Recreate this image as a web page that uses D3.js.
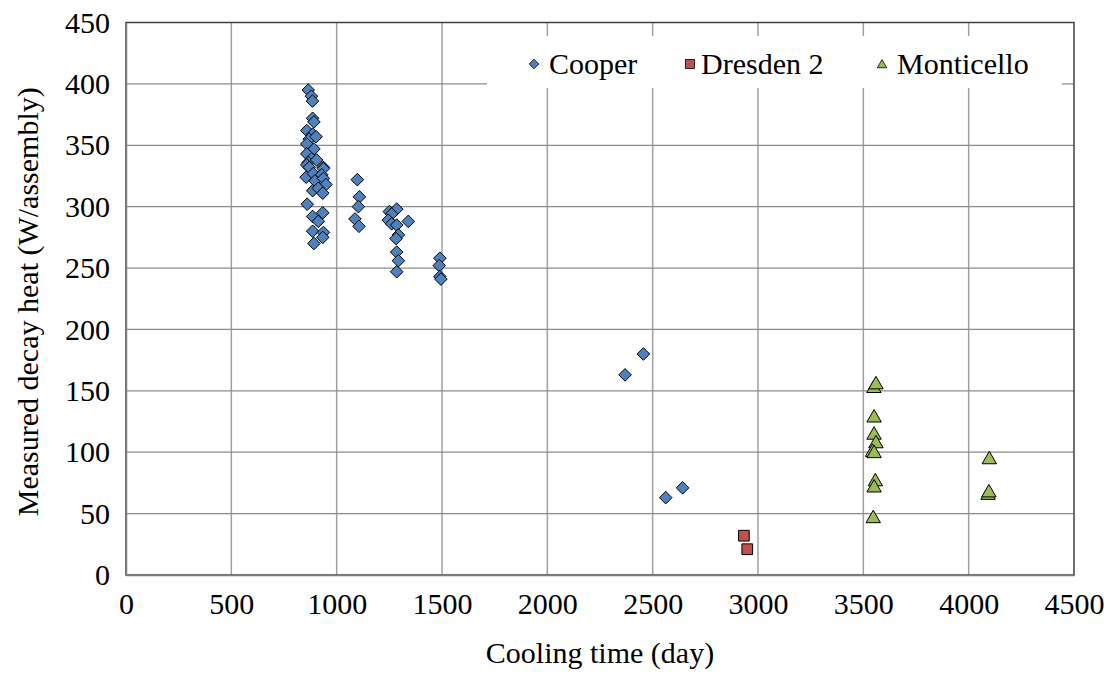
<!DOCTYPE html>
<html><head><meta charset="utf-8">
<script src="https://cdn.jsdelivr.net/npm/d3@7"></script>
<style>body{margin:0;background:#fff;}</style>
</head><body><svg id="c" width="1115" height="675"></svg>
<script>
// Data
const cooperDay = [865,880,885,886,892,858,886,870,902,858,892,858,881,865,905,937,858,
  870,937,855,889,929,897,937,949,886,913,934,860,934,886,913,886,937,934,892,
  1098,1108,1103,1087,1106,1250,1285,1261,1245,1261,1340,1285,1293,1282,1285,1293,1285,
  1490,1487,1490,1495,2369,2456,2562,2642];
const cooperHeat = [395,390,386,372,369,362,359,355,357,351,347,343,339,336,338,332,334,
  332,331,324,327,326,321,323,318,313,315,311,302,295,292,288,280,279,275,270,
  322,308,300,290,284,296,298,294,289,286,288,285,277,274,263,256,247,
  258,252,243,241,163,180,63,71];
const dresdenDay = [2933,2949];
const dresdenHeat = [32,21];
const montiDay = [3550,3560,3551,3551,3560,3544,3551,3557,3551,3547,4098,4092,4096];
const montiHeat = [152,155,128,114,107,100,99,76,71,46,94,65,67];
const xTicks = [0,500,1000,1500,2000,2500,3000,3500,4000,4500];
const yTicks = [0,50,100,150,200,250,300,350,400,450];
const seriesNames = ["Cooper","Dresden 2","Monticello"];

const FF = '"Liberation Serif"';
const svg = d3.select("#c");
const L=126, R=1074, T=22.5, B=575;
const x = d3.scaleLinear().domain([0,4500]).range([L,R]);
const y = d3.scaleLinear().domain([0,450]).range([B,T]);
const FONT = 30;

// gridlines
svg.append("g").selectAll("line").data(xTicks.slice(1,-1)).join("line")
  .attr("x1",d=>x(d)).attr("x2",d=>x(d)).attr("y1",T).attr("y2",B)
  .attr("stroke","#a0a0a0").attr("stroke-width",1.5);
svg.append("g").selectAll("line").data(yTicks.slice(1,-1)).join("line")
  .attr("y1",d=>y(d)).attr("y2",d=>y(d)).attr("x1",L).attr("x2",R)
  .attr("stroke","#8c8c8c").attr("stroke-width",1.3);
// frame
svg.append("rect").attr("x",L).attr("y",T).attr("width",R-L).attr("height",B-T)
  .attr("fill","none").attr("stroke","#404040").attr("stroke-width",1.5);

// axes
const xAxis = d3.axisBottom(x).tickValues(xTicks).tickFormat(d3.format("d")).tickSize(0).tickPadding(18);
const gx = svg.append("g").attr("transform",`translate(0,${B})`).call(xAxis);
gx.select(".domain").attr("stroke","#808080").attr("stroke-width",1.5);
gx.selectAll("text").attr("font-size",FONT).attr("fill","#000").style("font-family",FF);
const yAxis = d3.axisLeft(y).tickValues(yTicks).tickFormat(d3.format("d")).tickSize(0).tickPadding(16);
const gy = svg.append("g").attr("transform",`translate(${L},0)`).call(yAxis);
gy.select(".domain").attr("stroke","#808080").attr("stroke-width",1.5);
gy.selectAll("text").attr("font-size",FONT).attr("fill","#000").style("font-family",FF);

// titles
svg.append("text").attr("x",(L+R)/2).attr("y",663).attr("text-anchor","middle")
  .attr("font-size",FONT).style("font-family",FF).text("Cooling time (day)");
svg.append("text").attr("transform",`translate(38,${(T+B)/2+3}) rotate(-90)`).attr("text-anchor","middle")
  .attr("font-size",FONT).style("font-family",FF).text("Measured decay heat (W/assembly)");

// legend box
svg.append("rect").attr("x",487).attr("y",36).attr("width",575).attr("height",52).attr("fill","#fff");

// markers
function diamondPath(s){ return `M0,${-s}L${s},0L0,${s}L${-s},0Z`; }
const sq = d3.symbol().type(d3.symbolSquare).size(115);
const tri = d3.symbol().type(d3.symbolTriangle).size(90);
svg.append("g").selectAll("path").data(d3.range(cooperDay.length)).join("path")
  .attr("transform",i=>`translate(${x(cooperDay[i])},${y(cooperHeat[i])})`)
  .attr("d",diamondPath(6.3)).attr("fill","#4F81BD").attr("stroke","#000").attr("stroke-width",1);
svg.append("g").selectAll("path").data(d3.range(dresdenDay.length)).join("path")
  .attr("transform",i=>`translate(${x(dresdenDay[i])},${y(dresdenHeat[i])})`)
  .attr("d",sq()).attr("fill","#C0504D").attr("stroke","#000").attr("stroke-width",1);
svg.append("g").selectAll("path").data(d3.range(montiDay.length)).join("path")
  .attr("transform",i=>`translate(${x(montiDay[i])},${y(montiHeat[i])})`)
  .attr("d",tri()).attr("fill","#9BBB59").attr("stroke","#000").attr("stroke-width",1);

// legend
const lg = svg.append("g");
const lx = [534, 690, 882];
const tx = [549, 701, 897];
const ly = 64;
lg.append("path").attr("transform",`translate(${lx[0]},${ly})`).attr("d",diamondPath(4.8))
  .attr("fill","#4F81BD").attr("stroke","#000").attr("stroke-width",0.8);
lg.append("rect").attr("x",lx[1]-4.5).attr("y",ly-4.5).attr("width",9).attr("height",9)
  .attr("fill","#C0504D").attr("stroke","#000").attr("stroke-width",0.8);
lg.append("path").attr("transform",`translate(${lx[2]},${ly+1})`).attr("d",d3.symbol().type(d3.symbolTriangle).size(38)())
  .attr("fill","#9BBB59").attr("stroke","#000").attr("stroke-width",0.8);
seriesNames.forEach((n,i)=>{
  lg.append("text").attr("x",tx[i]).attr("y",ly+10).attr("font-size",FONT).style("font-family",FF).text(n);
});
</script></body></html>
